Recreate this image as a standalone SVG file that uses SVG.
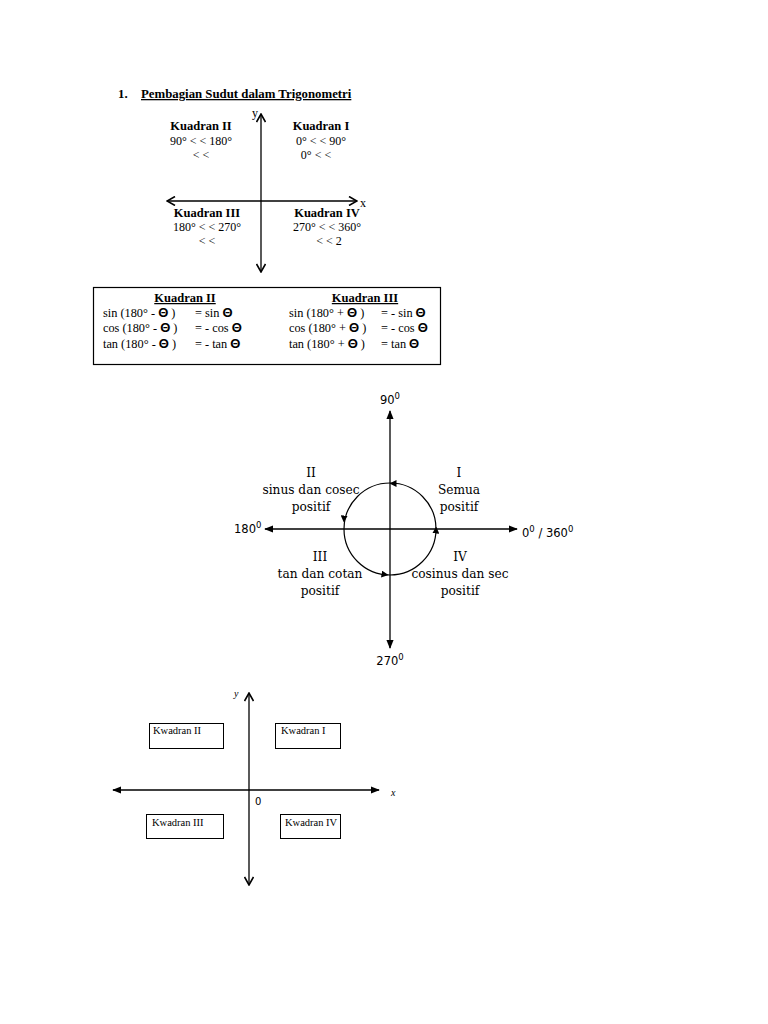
<svg xmlns="http://www.w3.org/2000/svg" width="768" height="1024" viewBox="0 0 768 1024">
<style>
.s{font-family:"Liberation Serif","Times New Roman",serif;fill:#000}
.d{font-family:"DejaVu Serif",serif;fill:#000}
.b{font-weight:bold}
.ss{font-family:"DejaVu Sans","Liberation Sans",sans-serif;fill:#000}
.th{font-family:"Liberation Sans",Arial,sans-serif;font-weight:bold;font-size:13px}
.ln{stroke:#000;stroke-width:1.3;fill:none}
.bx{stroke:#000;stroke-width:1;fill:#fff}
.kw{font-family:"Liberation Serif","Times New Roman",serif;fill:#000;font-size:10.5px}
</style>
<defs>
<marker id="v" viewBox="0 0 10 10" refX="9" refY="5" markerWidth="10" markerHeight="10" markerUnits="userSpaceOnUse" orient="auto-start-reverse">
<path d="M1,0.5 L9,5 L1,9.5" fill="none" stroke="#000" stroke-width="1.6"/>
</marker>
<marker id="f" viewBox="0 0 10 10" refX="9" refY="5" markerWidth="9" markerHeight="9" markerUnits="userSpaceOnUse" orient="auto-start-reverse">
<path d="M0,1 L10,5 L0,9 z" fill="#000"/>
</marker>
<marker id="sm" viewBox="0 0 10 10" refX="5" refY="5" markerWidth="7" markerHeight="7" markerUnits="userSpaceOnUse" orient="auto">
<path d="M0,0 L10,5 L0,10 z" fill="#000"/>
</marker>
</defs>
<rect width="768" height="1024" fill="#fff"/>

<!-- Section 1 -->
<g id="title">
<text class="s b" x="118" y="98" font-size="12.8">1.</text>
<text class="s b" x="141" y="98" font-size="12.8" text-decoration="underline">Pembagian Sudut dalam Trigonometri</text>
</g>
<g id="connectors1">
<line class="ln" x1="261" y1="114" x2="261" y2="272" marker-start="url(#v)" marker-end="url(#v)"/>
<line class="ln" x1="167" y1="201" x2="357" y2="201" marker-start="url(#v)" marker-end="url(#v)"/>
</g>
<text class="s" x="252" y="117" font-size="12">y</text>
<text class="s" x="360" y="207" font-size="12">x</text>
<g id="q2a" text-anchor="middle">
<text class="s b" x="201" y="130" font-size="12.5">Kuadran II</text>
<text class="s" x="201" y="145" font-size="12">90° &lt; &lt; 180°</text>
<text class="s" x="201" y="159" font-size="12">&lt; &lt;</text>
</g>
<g id="q1a" text-anchor="middle">
<text class="s b" x="321" y="130" font-size="12.5">Kuadran I</text>
<text class="s" x="321" y="145" font-size="12">0° &lt; &lt; 90°</text>
<text class="s" x="316" y="159" font-size="12">0° &lt; &lt;</text>
</g>
<g id="q3a" text-anchor="middle">
<text class="s b" x="207" y="217" font-size="12.5">Kuadran III</text>
<text class="s" x="207" y="231" font-size="12">180° &lt;  &lt; 270°</text>
<text class="s" x="207" y="245" font-size="12">&lt; &lt;</text>
</g>
<g id="q4a" text-anchor="middle">
<text class="s b" x="327" y="217" font-size="12.5">Kuadran IV</text>
<text class="s" x="327" y="231" font-size="12">270° &lt; &lt; 360°</text>
<text class="s" x="329" y="245" font-size="12">&lt; &lt; 2</text>
</g>

<!-- Box -->
<g id="box">
<rect x="93.5" y="287.5" width="347" height="77" fill="#fff" stroke="#000" stroke-width="1.2"/>
<text class="s b" x="185" y="302" font-size="12.5" text-anchor="middle" text-decoration="underline">Kuadran II</text>
<text class="s b" x="365" y="302" font-size="12.5" text-anchor="middle" text-decoration="underline">Kuadran III</text>
<g class="s" font-size="12.3">
<text x="103" y="317">sin (180° -  <tspan class="th">Θ</tspan> )</text>
<text x="195" y="317">= sin  <tspan class="th">Θ</tspan></text>
<text x="103" y="332">cos (180° -  <tspan class="th">Θ</tspan> )</text>
<text x="195" y="332">= - cos  <tspan class="th">Θ</tspan></text>
<text x="103" y="348">tan (180° -  <tspan class="th">Θ</tspan> )</text>
<text x="195" y="348">= - tan  <tspan class="th">Θ</tspan></text>
<text x="289" y="317">sin (180° +  <tspan class="th">Θ</tspan> )</text>
<text x="381" y="317">= - sin  <tspan class="th">Θ</tspan></text>
<text x="289" y="332">cos (180° +  <tspan class="th">Θ</tspan> )</text>
<text x="381" y="332">= - cos  <tspan class="th">Θ</tspan></text>
<text x="289" y="348">tan (180° +  <tspan class="th">Θ</tspan> )</text>
<text x="381" y="348">= tan  <tspan class="th">Θ</tspan></text>
</g>
</g>

<!-- Section 2: circle -->
<g id="connectors2">
<line class="ln" x1="390" y1="529" x2="390" y2="411" stroke-width="1.2" marker-end="url(#f)"/>
<line class="ln" x1="390" y1="529" x2="390" y2="648" stroke-width="1.2" marker-end="url(#f)"/>
<line class="ln" x1="390" y1="529" x2="265" y2="529" stroke-width="1.2" marker-end="url(#f)"/>
<line class="ln" x1="390" y1="529" x2="517" y2="529" stroke-width="1.2" marker-end="url(#f)"/>
<circle cx="390" cy="529" r="46" fill="none" stroke="#000" stroke-width="1.2"/>
<path d="M397,483.5 L393,483.5" fill="none" stroke="none" marker-end="url(#sm)"/>
<path d="M344.2,515 L344,519" fill="none" stroke="none" marker-end="url(#sm)"/>
<path d="M381,574 L385,574.5" fill="none" stroke="none" marker-end="url(#sm)"/>
<path d="M435.8,534 L436,530" fill="none" stroke="none" marker-end="url(#sm)"/>
</g>
<g id="deg" class="ss" font-size="11.5">
<text x="390" y="404" text-anchor="middle">90<tspan font-size="8.5" dy="-5">0</tspan></text>
<text x="234" y="533">180<tspan font-size="8.5" dy="-5">0</tspan></text>
<text x="522" y="537">0<tspan font-size="8.5" dy="-5">0</tspan><tspan dy="5"> / 360</tspan><tspan font-size="8.5" dy="-5">0</tspan></text>
<text x="390" y="665" text-anchor="middle">270<tspan font-size="8.5" dy="-5">0</tspan></text>
</g>
<g id="lab2" class="d" font-size="12.2" text-anchor="middle">
<text x="311" y="477">II</text>
<text x="311" y="494">sinus dan cosec</text>
<text x="311" y="511">positif</text>
<text x="459" y="477">I</text>
<text x="459" y="494">Semua</text>
<text x="459" y="511">positif</text>
<text x="320" y="561">III</text>
<text x="320" y="578">tan dan cotan</text>
<text x="320" y="595">positif</text>
<text x="460" y="561">IV</text>
<text x="460" y="578">cosinus dan sec</text>
<text x="460" y="595">positif</text>
</g>

<!-- Section 3 -->
<g id="connectors3">
<line class="ln" x1="249" y1="693" x2="249" y2="885" marker-start="url(#v)" marker-end="url(#v)"/>
<line class="ln" x1="113" y1="790" x2="379" y2="790" stroke-width="1.2" marker-start="url(#f)" marker-end="url(#f)"/>
</g>
<text class="s" x="234" y="697" font-size="10" font-style="italic">y</text>
<text class="s" x="391" y="796" font-size="10" font-style="italic">x</text>
<text class="ss" x="255" y="805" font-size="10">0</text>
<g id="k2"><rect class="bx" x="149.5" y="723.5" width="74" height="25"/><text class="kw" x="153" y="734">Kwadran II</text></g>
<g id="k1"><rect class="bx" x="275.5" y="723.5" width="65" height="25"/><text class="kw" x="281" y="734">Kwadran I</text></g>
<g id="k3"><rect class="bx" x="146.5" y="814.5" width="77" height="24"/><text class="kw" x="152" y="826">Kwadran III</text></g>
<g id="k4"><rect class="bx" x="280.5" y="814.5" width="60" height="24"/><text class="kw" x="285" y="826">Kwadran IV</text></g>
</svg>
